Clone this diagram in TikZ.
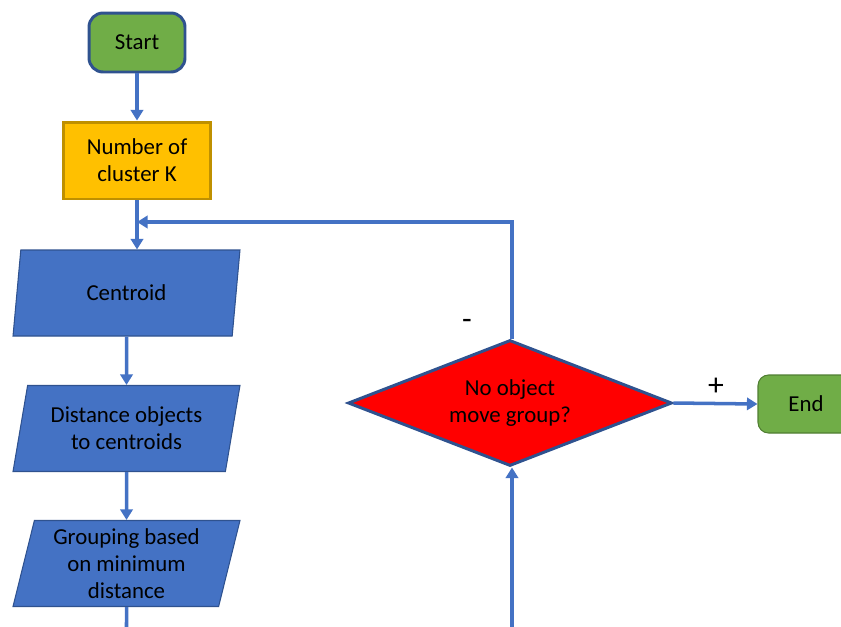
\documentclass[tikz,border=0pt]{standalone}
\usepackage{fontspec}
\setmainfont{Carlito}
\usetikzlibrary{shapes.geometric}
\usetikzlibrary{arrows.meta}
\definecolor{okgreen}{HTML}{70AD47}
\definecolor{okblue}{HTML}{4472C4}
\definecolor{darkblue}{HTML}{2F528F}
\definecolor{gold}{HTML}{FFC000}
\definecolor{darkgold}{HTML}{BF9000}
\definecolor{darkgreen}{HTML}{507E32}
\tikzset{
	startstyle/.style={rectangle,rounded corners=8pt,draw=darkblue,line width=1.7pt,fill=okgreen,minimum width=1.92cm,minimum height=1.18cm},
	endstyle/.style={rectangle,rounded corners=6pt,draw=darkgreen,line width=0.6pt,fill=okgreen,minimum width=1.92cm,minimum height=1.16cm},
	numstyle/.style={rectangle,draw=darkgold,line width=1.7pt,fill=gold,minimum width=2.96cm,minimum height=1.54cm,align=center},
	inputstyle/.style={trapezium,trapezium left angle=76,trapezium right angle=104,trapezium stretches body=true,draw=darkblue,line width=0.6pt,fill=okblue,minimum width=4.54cm,minimum height=1.72cm,align=center,inner xsep=0pt},
	decisionstyle/.style={diamond,aspect=2.5,draw=darkblue,line width=1.7pt,fill=red,minimum width=6.48cm,minimum height=2.52cm,align=center,inner sep=0pt},
	linestyle/.style={draw=okblue,line width=2pt},
	arrowstyle/.style={linestyle,-{Triangle[length=6pt,width=7pt]}},
	signstyle/.style={font=\fontsize{18pt}{20pt}\selectfont}
}
\begin{document}
\begin{tikzpicture}[x=0.02cm,y=-0.02cm]
	\fontsize{13pt}{15.5pt}\selectfont
	\useasboundingbox (0,0) rectangle (841,626);
	\node[startstyle] (start) at (137,42.5) {Start};
	\node[numstyle] (num) at (137,160.5) {Number of\\cluster K};
	\node[inputstyle] (cen) at (126.5,293) {Centroid};
	\node[inputstyle] (dist) at (126.5,428.5) {Distance objects\\to centroids};
	\node[inputstyle] (grp) at (126.5,563.5) {Grouping based\\on minimum\\distance};
	\node[decisionstyle] (dec) at (510,403) {No object\\move group?};
	\node[endstyle] (end) at (806,404) {End};
	\coordinate (loop) at (137,222);
	\coordinate (gbot) at (126.5,630);
	\coordinate (dbot) at (512,630);
	\draw[arrowstyle] (start)--(num);
	\draw[arrowstyle] (num.south)--(num.south |- cen.north);
	\draw[arrowstyle] (cen)--(dist);
	\draw[arrowstyle] (dist)--(grp);
	\draw[linestyle] (grp.south)--(gbot);
	\draw[arrowstyle] (dbot)--(dbot |- dec.south);
	\draw[arrowstyle] (dec.north -| dbot) |- (loop);
	\draw[arrowstyle] (dec.east)--(end.west);
	\node[signstyle] (minus) at (467,324) {-};
	\node[signstyle] (plus) at (716,387) {+};
\end{tikzpicture}
\end{document}
